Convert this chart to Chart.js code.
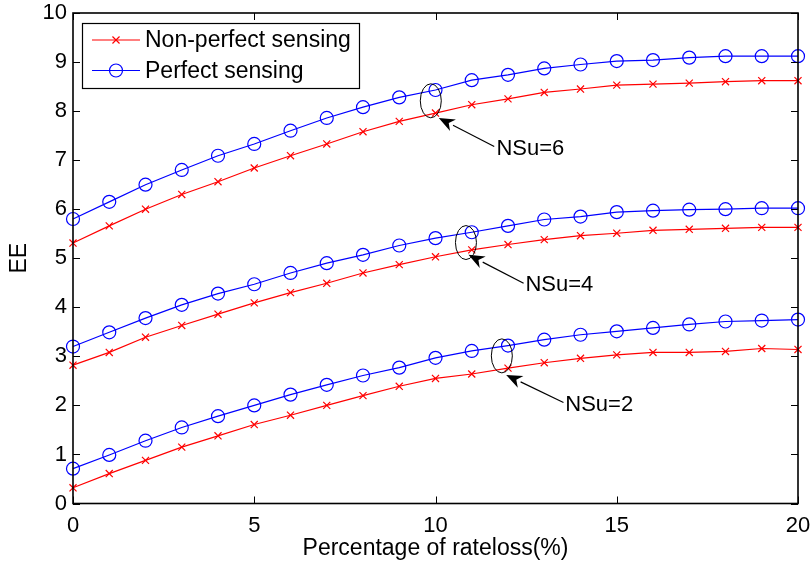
<!DOCTYPE html>
<html>
<head>
<meta charset="utf-8">
<script src="https://cdn.jsdelivr.net/npm/chart.js@4.4.1/dist/chart.umd.min.js"></script>
<style>
  html, body { margin: 0; padding: 0; background: #fff; }
  #wrap { width: 811px; height: 565px; }
</style>
</head>
<body>
<div id="wrap"><canvas id="ee" width="811" height="565"></canvas></div>
<script>
// x categories: percentage of rate loss
const rateLoss = [0, 1, 2, 3, 4, 5, 6, 7, 8, 9, 10, 11, 12, 13, 14, 15, 16, 17, 18, 19, 20];

// EE values, per number of SUs
const nonPerfect6 = [5.31, 5.66, 6.00, 6.30, 6.56, 6.84, 7.09, 7.33, 7.58, 7.79, 7.96, 8.13, 8.25, 8.38, 8.45, 8.53, 8.55, 8.57, 8.60, 8.62, 8.62];
const perfect6    = [5.80, 6.15, 6.50, 6.80, 7.09, 7.33, 7.60, 7.86, 8.08, 8.28, 8.43, 8.63, 8.74, 8.87, 8.95, 9.02, 9.04, 9.09, 9.12, 9.12, 9.12];
const nonPerfect4 = [2.82, 3.08, 3.39, 3.63, 3.86, 4.09, 4.30, 4.49, 4.70, 4.87, 5.03, 5.17, 5.28, 5.38, 5.46, 5.51, 5.57, 5.59, 5.61, 5.63, 5.63];
const perfect4    = [3.20, 3.49, 3.78, 4.05, 4.28, 4.47, 4.70, 4.90, 5.07, 5.26, 5.41, 5.53, 5.66, 5.79, 5.85, 5.94, 5.97, 5.99, 6.00, 6.02, 6.02];
const nonPerfect2 = [0.32, 0.61, 0.88, 1.15, 1.38, 1.61, 1.80, 2.00, 2.20, 2.39, 2.55, 2.64, 2.76, 2.87, 2.96, 3.03, 3.08, 3.08, 3.10, 3.16, 3.14];
const perfect2    = [0.71, 0.99, 1.28, 1.55, 1.78, 2.00, 2.22, 2.42, 2.61, 2.77, 2.97, 3.11, 3.22, 3.34, 3.44, 3.51, 3.58, 3.65, 3.71, 3.73, 3.75];

const xTicks = [0, 5, 10, 15, 20];
const yTicks = [0, 1, 2, 3, 4, 5, 6, 7, 8, 9, 10];
const legendLabels = ['Non-perfect sensing', 'Perfect sensing'];

// group annotations (data coords for anchor points)
const groupLabels = ['NSu=6', 'NSu=4', 'NSu=2'];
const ellipseCenters = [[9.87, 8.21], [10.84, 5.32], [11.83, 3.01]];
const arrowTips = [[10.09, 7.86], [10.91, 5.07], [11.95, 2.62]];
const arrowTails = [[11.62, 7.28], [12.43, 4.49], [13.53, 2.06]];
const labelAnchors = [[11.68, 7.24], [12.48, 4.47], [13.58, 2.02]];

const FONT = '"Liberation Sans", Arial, Helvetica, sans-serif';
const RED = 'rgb(255,0,0)';
const BLUE = 'rgb(0,0,255)';

function toPoints(ys) {
    return rateLoss.map((x, i) => ({ x: x, y: ys[i] }));
}

function series(ys, perfect) {
    return {
        label: perfect ? legendLabels[1] : legendLabels[0],
        data: toPoints(ys),
        borderColor: perfect ? BLUE : RED,
        backgroundColor: 'rgba(0,0,0,0)',
        borderWidth: 1.2,
        pointStyle: perfect ? 'circle' : 'crossRot',
        pointRadius: perfect ? 6.5 : 5,
        pointBorderWidth: 1.2,
        pointBorderColor: perfect ? BLUE : RED,
        pointBackgroundColor: 'rgba(0,0,0,0)',
        tension: 0,
        clip: false
    };
}

// keep the plot area fixed: drop the extra room Chart.js reserves for edge labels
function noEdgePadding(s) {
    s.paddingLeft = 0;
    s.paddingRight = 0;
    s.paddingTop = 0;
    s.paddingBottom = 0;
}

// box frame with inward ticks on all four sides (MATLAB style)
const frame = {
    id: 'frame',
    afterDatasetsDraw(chart) {
        const { ctx, chartArea: a, scales: { x, y } } = chart;
        const len = 7;
        ctx.save();
        ctx.strokeStyle = '#000';
        ctx.lineWidth = 1;
        ctx.beginPath();
        xTicks.forEach(v => {
            const px = Math.round(x.getPixelForValue(v)) + 0.5;
            ctx.moveTo(px, a.bottom); ctx.lineTo(px, a.bottom - len);
            ctx.moveTo(px, a.top); ctx.lineTo(px, a.top + len);
        });
        yTicks.forEach(v => {
            const py = Math.round(y.getPixelForValue(v)) + 0.5;
            ctx.moveTo(a.left, py); ctx.lineTo(a.left + len, py);
            ctx.moveTo(a.right, py); ctx.lineTo(a.right - len, py);
        });
        ctx.stroke();
        ctx.lineWidth = 1.6;
        ctx.strokeRect(a.left, a.top, a.right - a.left, a.bottom - a.top);
        ctx.restore();
    }
};

// legend box in upper-left corner of the axes
const boxLegend = {
    id: 'boxLegend',
    afterDraw(chart) {
        const { ctx, chartArea: a } = chart;
        const left = a.left + 9, top = a.top + 10, w = 277, h = 65;
        ctx.save();
        ctx.fillStyle = '#fff';
        ctx.fillRect(left, top, w, h);
        ctx.strokeStyle = '#000';
        ctx.lineWidth = 1.2;
        ctx.strokeRect(left + 0.5, top + 0.5, w, h);
        ctx.font = '23px ' + FONT;
        ctx.textBaseline = 'middle';
        [0, 1].forEach(i => {
            const ds = chart.data.datasets[i];
            const rowY = top + 17 + i * 30.5;
            ctx.strokeStyle = ds.borderColor;
            ctx.lineWidth = ds.borderWidth;
            ctx.beginPath();
            ctx.moveTo(left + 10, rowY);
            ctx.lineTo(left + 58, rowY);
            ctx.stroke();
            ctx.fillStyle = 'rgba(0,0,0,0)';
            Chart.helpers.drawPoint(ctx, {
                pointStyle: ds.pointStyle,
                radius: ds.pointRadius,
                borderWidth: ds.pointBorderWidth,
                rotation: 0
            }, left + 34, rowY);
            ctx.fillStyle = '#000';
            ctx.fillText(ds.label, left + 63, rowY + 1);
        });
        ctx.restore();
    }
};

// ellipses, arrows and NSu labels
const groupNotes = {
    id: 'groupNotes',
    afterDatasetsDraw(chart) {
        const { ctx, scales: { x, y } } = chart;
        const P = p => [x.getPixelForValue(p[0]), y.getPixelForValue(p[1])];
        ctx.save();
        ctx.strokeStyle = '#000';
        ctx.fillStyle = '#000';
        ctx.lineWidth = 1;
        groupLabels.forEach((lbl, i) => {
            const [cx, cy] = P(ellipseCenters[i]);
            ctx.beginPath();
            ctx.ellipse(cx, cy, 10.5, 17, 0, 0, Math.PI * 2);
            ctx.stroke();

            const [tx, ty] = P(arrowTips[i]);
            const [sx, sy] = P(arrowTails[i]);
            const ang = Math.atan2(ty - sy, tx - sx);
            const hl = 16, hw = 6.5;
            const bx = tx - hl * Math.cos(ang), by = ty - hl * Math.sin(ang);
            ctx.lineWidth = 1.2;
            ctx.beginPath();
            ctx.moveTo(sx, sy);
            ctx.lineTo(bx, by);
            ctx.stroke();
            ctx.beginPath();
            ctx.moveTo(tx, ty);
            ctx.lineTo(bx + hw * Math.sin(ang), by - hw * Math.cos(ang));
            ctx.lineTo(bx + 0.3 * hl * Math.cos(ang), by + 0.3 * hl * Math.sin(ang));
            ctx.lineTo(bx - hw * Math.sin(ang), by + hw * Math.cos(ang));
            ctx.closePath();
            ctx.fill();
            ctx.lineWidth = 1;

            const [lx, ly] = P(labelAnchors[i]);
            ctx.font = '22px ' + FONT;
            ctx.textBaseline = 'middle';
            ctx.textAlign = 'left';
            ctx.fillText(lbl, lx, ly + 1);
        });
        ctx.restore();
    }
};

const datasets = [
    series(nonPerfect6, false), series(perfect6, true),
    series(nonPerfect4, false), series(perfect4, true),
    series(nonPerfect2, false), series(perfect2, true)
];

new Chart(document.getElementById('ee'), {
    type: 'line',
    data: { datasets },
    plugins: [frame, groupNotes, boxLegend],
    options: {
        responsive: false,
        animation: false,
        layout: { padding: { left: 0, top: 13, right: 13, bottom: 0 } },
        plugins: { legend: { display: false }, tooltip: { enabled: false } },
        scales: {
            x: {
                type: 'linear',
                min: 0, max: 20,
                afterFit: s => { s.height = 61.5; noEdgePadding(s); },
                afterBuildTicks: s => { s.ticks = xTicks.map(v => ({ value: v })); },
                grid: { display: false, drawTicks: false },
                border: { display: false },
                ticks: { color: '#000', padding: 9, maxRotation: 0, font: { family: FONT, size: 22 } },
                title: {
                    display: true, text: 'Percentage of rateloss(%)', color: '#000',
                    font: { family: FONT, size: 23 }, padding: { top: 0, bottom: 3 }
                }
            },
            y: {
                min: 0, max: 10,
                afterFit: s => { s.width = 73; noEdgePadding(s); },
                afterBuildTicks: s => { s.ticks = yTicks.map(v => ({ value: v })); },
                grid: { display: false, drawTicks: false },
                border: { display: false },
                ticks: { color: '#000', padding: 6, font: { family: FONT, size: 22 } },
                title: {
                    display: true, text: 'EE', color: '#000',
                    font: { family: FONT, size: 23 }, padding: { top: 6, bottom: 0 }
                }
            }
        }
    }
});
</script>
</body>
</html>
